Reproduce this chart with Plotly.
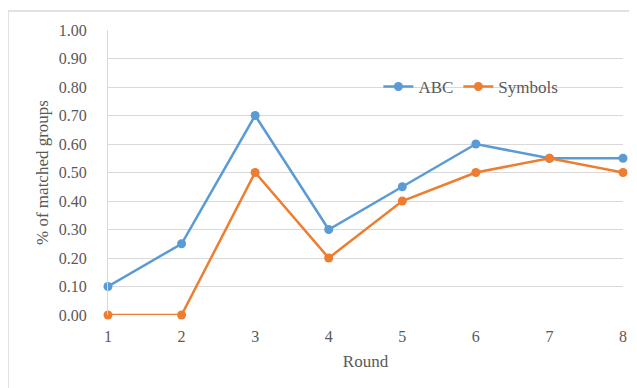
import plotly.graph_objects as go

rounds = [1, 2, 3, 4, 5, 6, 7, 8]
abc = [0.10, 0.25, 0.70, 0.30, 0.45, 0.60, 0.55, 0.55]
symbols = [0.00, 0.00, 0.50, 0.20, 0.40, 0.50, 0.55, 0.50]
y_ticks = [i / 10 for i in range(11)]

FONT = "Liberation Serif, serif"
GRAY = "#595959"

fig = go.Figure()
fig.add_trace(go.Scatter(x=rounds, y=abc, name="ABC", mode="lines+markers",
                         line=dict(color="#5B9BD5", width=2.5),
                         marker=dict(size=9, color="#5B9BD5"), cliponaxis=False))
fig.add_trace(go.Scatter(x=rounds, y=symbols, name="Symbols", mode="lines+markers",
                         line=dict(color="#ED7D31", width=2.5),
                         marker=dict(size=9, color="#ED7D31"), cliponaxis=False))

fig.update_layout(
    width=629, height=380,
    margin=dict(l=100, r=14, t=22, b=73, autoexpand=False),
    paper_bgcolor="white", plot_bgcolor="white",
    font=dict(family=FONT, size=16, color=GRAY),
    showlegend=True,
    legend=dict(orientation="h", x=0.525, y=0.80, xanchor="left", yanchor="middle",
                font=dict(family=FONT, size=17, color=GRAY), bgcolor="rgba(0,0,0,0)",
                tracegroupgap=0),
    xaxis=dict(range=[1, 8], tickvals=rounds, ticktext=[str(r) for r in rounds],
               showgrid=False, zeroline=False, showline=False,
               ticks="", ticklabelstandoff=10, tickfont=dict(family=FONT, size=16, color=GRAY),
               title=dict(text="Round", font=dict(family=FONT, size=17, color=GRAY), standoff=11)),
    yaxis=dict(range=[0, 1], tickvals=y_ticks, ticktext=[f"{v:.2f}" for v in y_ticks],
               showgrid=True, gridcolor="#d9d9d9", gridwidth=1, zeroline=False,
               showline=True, linecolor="#d9d9d9", ticks="", ticklabelstandoff=17,
               tickfont=dict(family=FONT, size=16, color=GRAY),
               title=dict(text="% of matched groups", font=dict(family=FONT, size=17, color=GRAY), standoff=5)),
)

fig.add_shape(type="rect", xref="paper", yref="paper",
              x0=-100/515, x1=1.2, y0=-1.0, y1=1 + 19/285,
              line=dict(color="#d9d9d9", width=1.5), fillcolor="rgba(0,0,0,0)", layer="below")

fig.write_html("out.html")
